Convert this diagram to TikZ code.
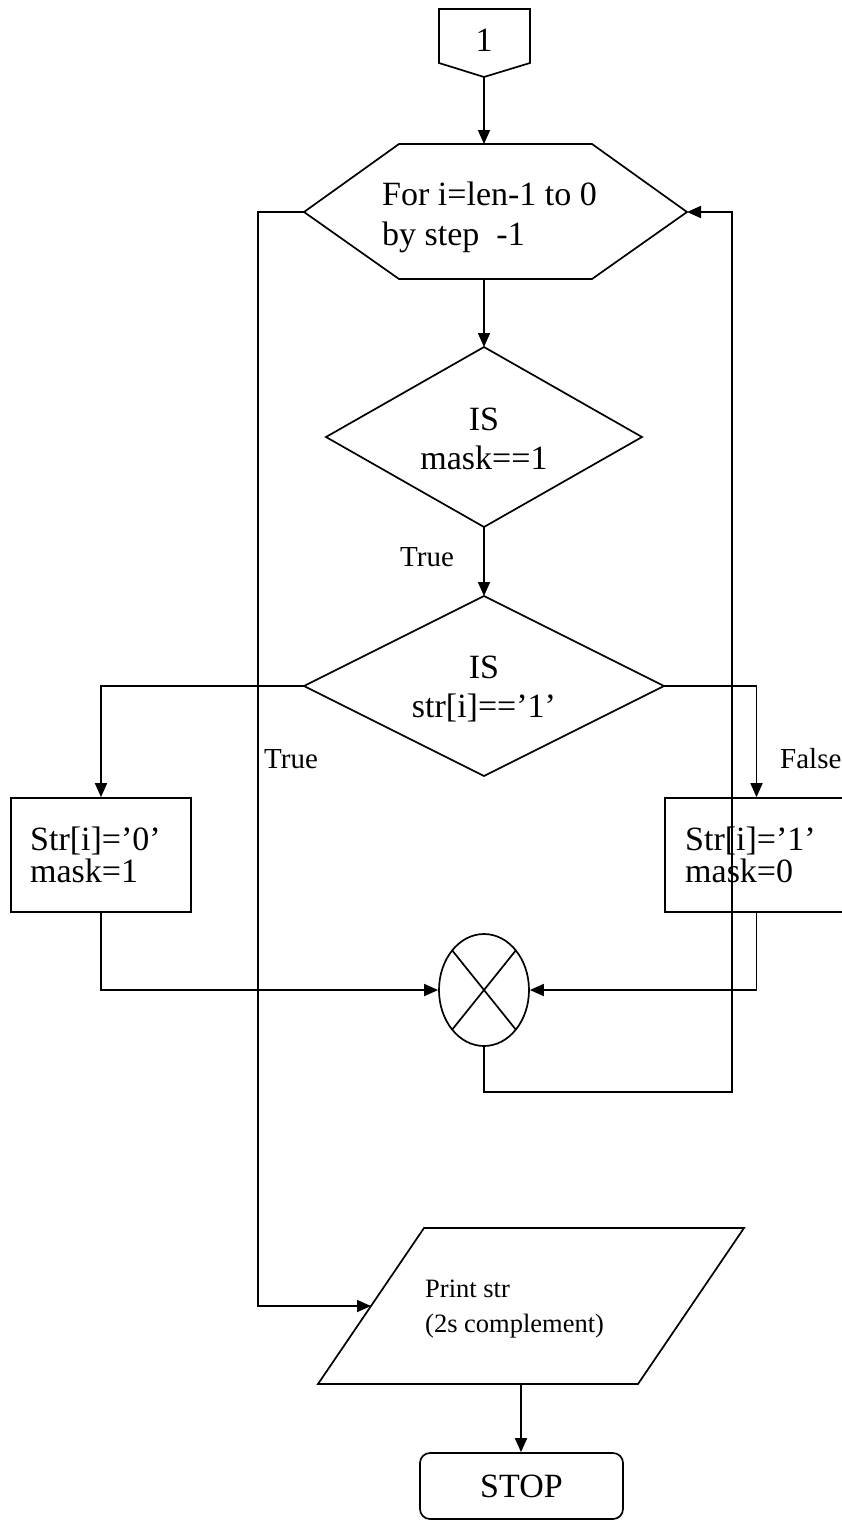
\documentclass[tikz,border=0pt]{standalone}
\usepackage{fontspec}
\setmainfont{Liberation Serif}
\usetikzlibrary{arrows.meta,shapes.geometric,calc}
\begin{document}
\begin{tikzpicture}[x=1pt,y=-1pt,
  line/.style={line width=1.7pt, line join=miter},
  arr/.style={line, -{Triangle[length=14pt,width=12pt]}},
  big/.style={font=\fontsize{34}{40}\selectfont, inner sep=0pt},
  lbl/.style={font=\fontsize{29}{34}\selectfont, inner sep=0pt},
  small/.style={font=\fontsize{26.5}{32}\selectfont, inner sep=0pt},
  box/.style={line, draw, rectangle, inner sep=0pt},
]
\useasboundingbox (0,0) rectangle (842,1520);

% off-page connector
\coordinate (p1) at (439,9);
\coordinate (p2) at (530,9);
\coordinate (p3) at (530,63);
\coordinate (pt) at (484,77);
\coordinate (p5) at (439,63);
\draw[line] (p1)--(p2)--(p3)--(pt)--(p5)--cycle;
\node[big, anchor=base] (one) at (484,52) {1};

% loop hexagon
\coordinate (hw)  at (304,212);
\coordinate (hnw) at (399,144);
\coordinate (hn)  at (484,144);
\coordinate (hne) at (592,144);
\coordinate (he)  at (687,212);
\coordinate (hse) at (592,279);
\coordinate (hs)  at (484,279);
\coordinate (hsw) at (399,279);
\draw[line] (hw)--(hnw)--(hne)--(he)--(hse)--(hsw)--cycle;
\node[big, anchor=base west] (forA) at (382,205) {For i=len-1 to 0};
\node[big, anchor=base west] (forB) at (382,245) {by step\ \ -1};
\draw[arr] (pt) -- (hn);

% decision 1
\coordinate (d1n) at (484,347);
\coordinate (d1e) at (642,437);
\coordinate (d1s) at (484,527);
\coordinate (d1w) at (326,437);
\draw[line] (d1n)--(d1e)--(d1s)--(d1w)--cycle;
\node[big, anchor=base] (is1) at (484,430) {IS};
\node[big, anchor=base] (mask1) at (484,469) {mask==1};
\draw[arr] (hs) -- (d1n);
\node[lbl, anchor=base west] (true1) at (400,566) {True};

% decision 2
\coordinate (d2n) at (484,596);
\coordinate (d2e) at (664,686);
\coordinate (d2s) at (484,776);
\coordinate (d2w) at (304,686);
\draw[line] (d2n)--(d2e)--(d2s)--(d2w)--cycle;
\node[big, anchor=base] (is2) at (484,678) {IS};
\node[big, anchor=base] (str2) at (484,717) {str[i]==’1’};
\draw[arr] (d1s) -- (d2n);

% process boxes
\node[box, minimum width=180pt, minimum height=114pt] (b0) at (101,855) {};
\node[big, anchor=base west] (b0a) at (30,850) {Str[i]=’0’};
\node[big, anchor=base west] (b0b) at (30,882) {mask=1};
\node[box, minimum width=183pt, minimum height=114pt] (b1) at (756.5,855) {};
\node[big, anchor=base west] (b1a) at (685,850) {Str[i]=’1’};
\node[big, anchor=base west] (b1b) at (685,882) {mask=0};
\draw[arr] (d2w) -| (b0.north);
\draw[arr] (d2e) -| (b1.north);
\node[lbl, anchor=base west] (true2) at (264,768) {True};
\node[lbl, anchor=base west] (false2) at (780,768) {False};

% merge connector
\node[line, draw, ellipse, minimum width=90pt, minimum height=112pt, inner sep=0pt] (mrg) at (484,990) {};
\draw[line] ($(mrg.center)+(-31.8,-39.6)$) -- ($(mrg.center)+(31.8,39.6)$);
\draw[line] ($(mrg.center)+(31.8,-39.6)$) -- ($(mrg.center)+(-31.8,39.6)$);
\draw[arr] (b0.south) |- (mrg.west);
\draw[arr] (b1.south) |- (mrg.east);
\coordinate (loopR) at (732,1092);
\draw[arr] (mrg.south) |- (loopR) |- (he);

% output parallelogram
\coordinate (pa) at (424,1228);
\coordinate (pb) at (744,1228);
\coordinate (pc) at (638,1384);
\coordinate (pd) at (318,1384);
\coordinate (pin) at (371,1306);
\coordinate (pout) at (521,1384);
\draw[line] (pa)--(pb)--(pc)--(pd)--cycle;
\node[small, anchor=base west] (prA) at (425,1297) {Print str};
\node[small, anchor=base west] (prB) at (425,1332) {(2s complement)};
\coordinate (exitL) at (258,212);
\draw[arr] (hw) -- (exitL) |- (pin);

% stop
\node[box, big, rounded corners=10pt, minimum width=203pt, minimum height=66pt] (stop) at (521.5,1486) {STOP};
\draw[arr] (pout) -- (pout |- stop.north);
\end{tikzpicture}
\end{document}
